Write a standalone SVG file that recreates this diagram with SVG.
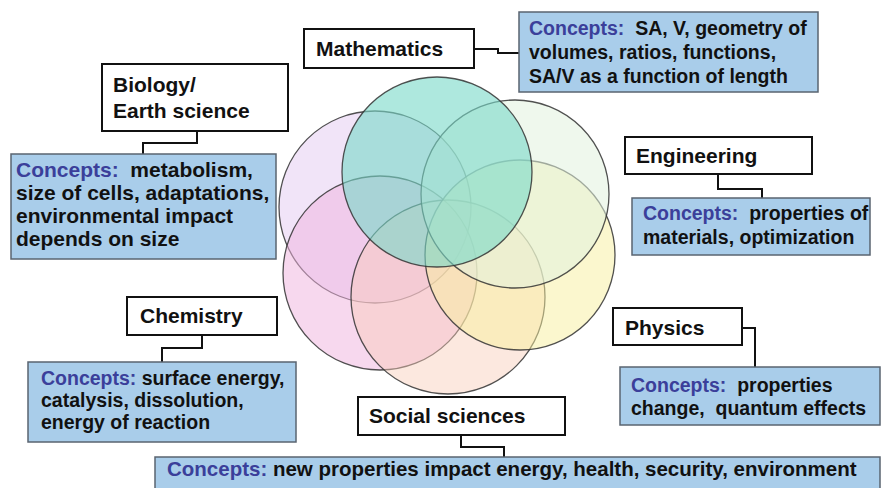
<svg xmlns="http://www.w3.org/2000/svg" width="885" height="488" viewBox="0 0 885 488">
<style>
.t{font-family:"Liberation Sans",Arial,sans-serif;font-weight:bold;font-size:21px;fill:#111}
.c{font-family:"Liberation Sans",Arial,sans-serif;font-weight:bold;font-size:19.5px;fill:#111}
.k{fill:#3b3f9a}
.tb{fill:#fff;stroke:#111;stroke-width:2}
.cb{fill:#a9cdea;stroke:#5a6470;stroke-width:1.5}
.circ{stroke:#333;stroke-width:1.3;stroke-opacity:0.85}
.con{fill:none;stroke:#111;stroke-width:2}
</style>
<rect width="885" height="488" fill="#fff"/>
<g id="venn">
<circle class="circ" cx="375" cy="207" r="96" fill="#e6cdf2" fill-opacity="0.55"/>
<circle class="circ" cx="380" cy="273" r="97" fill="#f0b2de" fill-opacity="0.5"/>
<circle class="circ" cx="448" cy="297" r="97" fill="#f9cbb8" fill-opacity="0.45"/>
<circle class="circ" cx="520" cy="255" r="95" fill="#f7ef9e" fill-opacity="0.5"/>
<circle class="circ" cx="515" cy="194" r="94" fill="#e2f3de" fill-opacity="0.55"/>
<circle class="circ" cx="437" cy="172" r="95" fill="#78d8c8" fill-opacity="0.6"/>
</g>
<g id="connectors">
<path class="con" d="M474,49 H498 V53 H519"/>
<path class="con" d="M197,131 V143 H143 V154"/>
<path class="con" d="M718,174 V189 H762 V198"/>
<path class="con" d="M202,335 V348 H162 V362"/>
<path class="con" d="M742,328 H755 V367"/>
<path class="con" d="M461,435 V447 H504 V457"/>
</g>
<g id="mathematics">
<rect class="tb" x="304" y="29" width="170" height="39"/>
<text class="t" x="316" y="56">Mathematics</text>
</g>
<g id="mathematics-concepts">
<rect class="cb" x="519" y="12" width="299" height="80"/>
<text class="c" x="529" y="35" xml:space="preserve"><tspan class="k">Concepts:</tspan>  SA, V, geometry of</text>
<text class="c" x="529" y="59">volumes, ratios, functions,</text>
<text class="c" x="529" y="83">SA/V as a function of length</text>
</g>
<g id="biology">
<rect class="tb" x="102" y="64" width="186" height="67"/>
<text class="t" x="113" y="92">Biology/</text>
<text class="t" x="113" y="118">Earth science</text>
</g>
<g id="biology-concepts">
<rect class="cb" x="11" y="154" width="265" height="105"/>
<text class="c" x="16" y="177" xml:space="preserve" style="font-size:21px"><tspan class="k">Concepts:</tspan>  metabolism,</text>
<text class="c" x="16" y="200" style="font-size:21px">size of cells, adaptations,</text>
<text class="c" x="16" y="223" style="font-size:21px">environmental impact</text>
<text class="c" x="16" y="246" style="font-size:21px">depends on size</text>
</g>
<g id="engineering">
<rect class="tb" x="625" y="137" width="187" height="37"/>
<text class="t" x="636" y="163">Engineering</text>
</g>
<g id="engineering-concepts">
<rect class="cb" x="632" y="198" width="238" height="57"/>
<text class="c" x="643" y="220" xml:space="preserve"><tspan class="k">Concepts:</tspan>  properties of</text>
<text class="c" x="643" y="244">materials, optimization</text>
</g>
<g id="chemistry">
<rect class="tb" x="127" y="297" width="150" height="38"/>
<text class="t" x="140" y="323">Chemistry</text>
</g>
<g id="chemistry-concepts">
<rect class="cb" x="28" y="362" width="268" height="80"/>
<text class="c" x="41" y="385"><tspan class="k">Concepts:</tspan> surface energy,</text>
<text class="c" x="41" y="407">catalysis, dissolution,</text>
<text class="c" x="41" y="429">energy of reaction</text>
</g>
<g id="physics">
<rect class="tb" x="613" y="308" width="129" height="37"/>
<text class="t" x="625" y="335">Physics</text>
</g>
<g id="physics-concepts">
<rect class="cb" x="620" y="367" width="260" height="58"/>
<text class="c" x="631" y="392" xml:space="preserve"><tspan class="k">Concepts:</tspan>  properties</text>
<text class="c" x="631" y="415" xml:space="preserve">change,  quantum effects</text>
</g>
<g id="social-sciences">
<rect class="tb" x="358" y="397" width="207" height="38"/>
<text class="t" x="369" y="423">Social sciences</text>
</g>
<g id="social-sciences-concepts">
<rect class="cb" x="155" y="457" width="725" height="40"/>
<text class="c" x="167" y="476" style="font-size:20.5px"><tspan class="k">Concepts:</tspan> new properties impact energy, health, security, environment</text>
</g>
</svg>
